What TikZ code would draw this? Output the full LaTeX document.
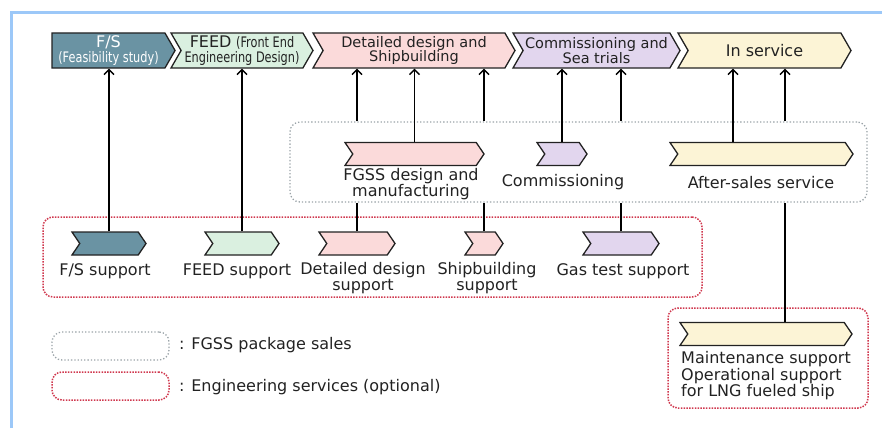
\documentclass[tikz,border=0pt]{standalone}
\usepackage{fontspec}
\setmainfont{DejaVu Sans}
\usepackage{graphicx}
\usetikzlibrary{calc}
\usetikzlibrary{arrows.meta}
\usetikzlibrary{shapes.symbols}
\definecolor{CF}{HTML}{6A93A3}
\definecolor{CE}{HTML}{DAF0E0}
\definecolor{CD}{HTML}{FBDADA}
\definecolor{CC}{HTML}{E2D6EE}
\definecolor{CS}{HTML}{FCF4D6}
\definecolor{CG}{HTML}{9AA3A8}
\definecolor{CR}{HTML}{D0384E}
\definecolor{CB}{HTML}{9CC8F8}
\definecolor{CT}{HTML}{222222}
\newcommand{\narrow}[1]{\scalebox{0.78}[1]{#1}}
\tikzset{
  chev/.style={shape=signal, signal to=east, signal from=west, draw=CT, line width=1.3pt,
    signal pointer angle=112, inner sep=0pt, minimum height=23},
  stage/.style={chev, minimum height=35, signal pointer angle=120, align=center, text=CT,
    font=\fontsize{14.5}{14.5}\selectfont},
  lbl/.style={align=center, text=CT, inner sep=0pt, font=\fontsize{16}{14.5}\selectfont},
  pkgbox/.style={draw=CG, line width=1.3pt, dotted, rounded corners=10pt},
  optbox/.style={draw=CR, line width=1.5pt, dash pattern=on 1.5pt off 1.3pt, rounded corners=10pt},
  up/.style={line width=1.4pt, -{Straight Barb[length=5pt,width=10pt]}},
  link/.style={line width=1.4pt},
}

\begin{document}
\begin{tikzpicture}[x=1pt,y=-1pt]
\useasboundingbox (0,0) rectangle (882,428);
\draw[CB, line width=3pt] (11,428) -- (11,12.5) -- (882,12.5);
%
% stages
\node[stage, fill=CF, text=white, signal from=nowhere, minimum width=123] (fs) at (108.5,50.5)
  {{\fontsize{16}{14.5}\selectfont F/S}\\\narrow{(Feasibility study)}};
\node[stage, fill=CE, minimum width=142] (feed) at (242,50.5)
  {{\fontsize{16}{14.5}\selectfont FEED} \narrow{(Front End}\\\narrow{Engineering Design)}};
\node[stage, fill=CD, minimum width=202] (detl) at (414,50.5) {Detailed design and\\Shipbuilding};
\node[stage, fill=CC, minimum width=167] (comm) at (596.5,50.5) {Commissioning and\\Sea trials};
\node[stage, fill=CS, minimum width=173, font=\fontsize{16}{14.5}\selectfont] (insvc) at (764.5,50.5) {In service};
%
% FGSS package sales
\node[pkgbox, minimum width=577, minimum height=80] (pkg) at (578.5,162) {};
\node[chev, fill=CD, minimum width=139] (fgss) at (414.5,154) {};
\node[chev, fill=CC, minimum width=50] (commsn) at (562,154) {};
\node[chev, fill=CS, minimum width=183] (after) at (761.5,154) {};
\node[lbl] (fgsslbl) at (411,184) {FGSS design and\\manufacturing};
\node[lbl] (commsnlbl) at (563,182) {Commissioning};
\node[lbl] (afterlbl) at (761,183) {After-sales service};
%
% engineering services
\node[optbox, minimum width=659, minimum height=80] (opt) at (372.5,257) {};
\node[chev, fill=CF, minimum width=74] (fssup) at (109,243.5) {};
\node[chev, fill=CE, minimum width=74] (feedsup) at (242,243.5) {};
\node[chev, fill=CD, minimum width=76] (detsup) at (357,243.5) {};
\node[chev, fill=CD, minimum width=38] (shipsup) at (484,243.5) {};
\node[chev, fill=CC, minimum width=76] (gassup) at (621,243.5) {};
\node[lbl] (fssuplbl) at (105,271) {F/S support};
\node[lbl] (feedsuplbl) at (237,271) {FEED support};
\node[lbl] (detsuplbl) at (363,278) {Detailed design\\support};
\node[lbl] (shipsuplbl) at (487,278) {Shipbuilding\\support};
\node[lbl] (gassuplbl) at (623,271) {Gas test support};
%
\node[optbox, minimum width=200, minimum height=100] (mopt) at (768,358) {};
\node[chev, fill=CS, minimum width=172] (maint) at (766,334) {};
\node[lbl, align=left, anchor=west] (maintlbl) at (681,376)
  {Maintenance support\\Operational support\\for LNG fueled ship};
%
% legend
\node[pkgbox, minimum width=117, minimum height=28] (keypkg) at (110.5,346) {};
\node[optbox, minimum width=117, minimum height=28] (keyopt) at (110.5,386) {};
\node[lbl, anchor=west] (keypkglbl) at (179,345) {: FGSS package sales};
\node[lbl, anchor=west] (keyoptlbl) at (179,387) {: Engineering services (optional)};
%
% connectors
\draw[up] (fssup.north) -- (fssup.north |- fs.south);
\draw[up] (feedsup.north) -- (feedsup.north |- feed.south);
\draw[up] (fgss.north) -- (fgss.north |- detl.south);
\draw[up] (commsn.north) -- (commsn.north |- comm.south);
\draw[up] ([xshift=-28.5pt]after.north) -- ([xshift=-28.5pt]after.north |- insvc.south);
\draw[link] (detsup.north) -- (detsup.north |- pkg.south);
\draw[up] (detsup.north |- pkg.north) -- (detsup.north |- detl.south);
\draw[link] (shipsup.north) -- (shipsup.north |- pkg.south);
\draw[up] (shipsup.north |- pkg.north) -- (shipsup.north |- detl.south);
\draw[link] (gassup.north) -- (gassup.north |- pkg.south);
\draw[up] (gassup.north |- pkg.north) -- (gassup.north |- comm.south);
\draw[link] ([xshift=19pt]maint.north) -- ([xshift=19pt]maint.north |- pkg.south);
\draw[up] ([xshift=19pt]maint.north |- pkg.north) -- ([xshift=19pt]maint.north |- insvc.south);
\end{tikzpicture}
\end{document}
